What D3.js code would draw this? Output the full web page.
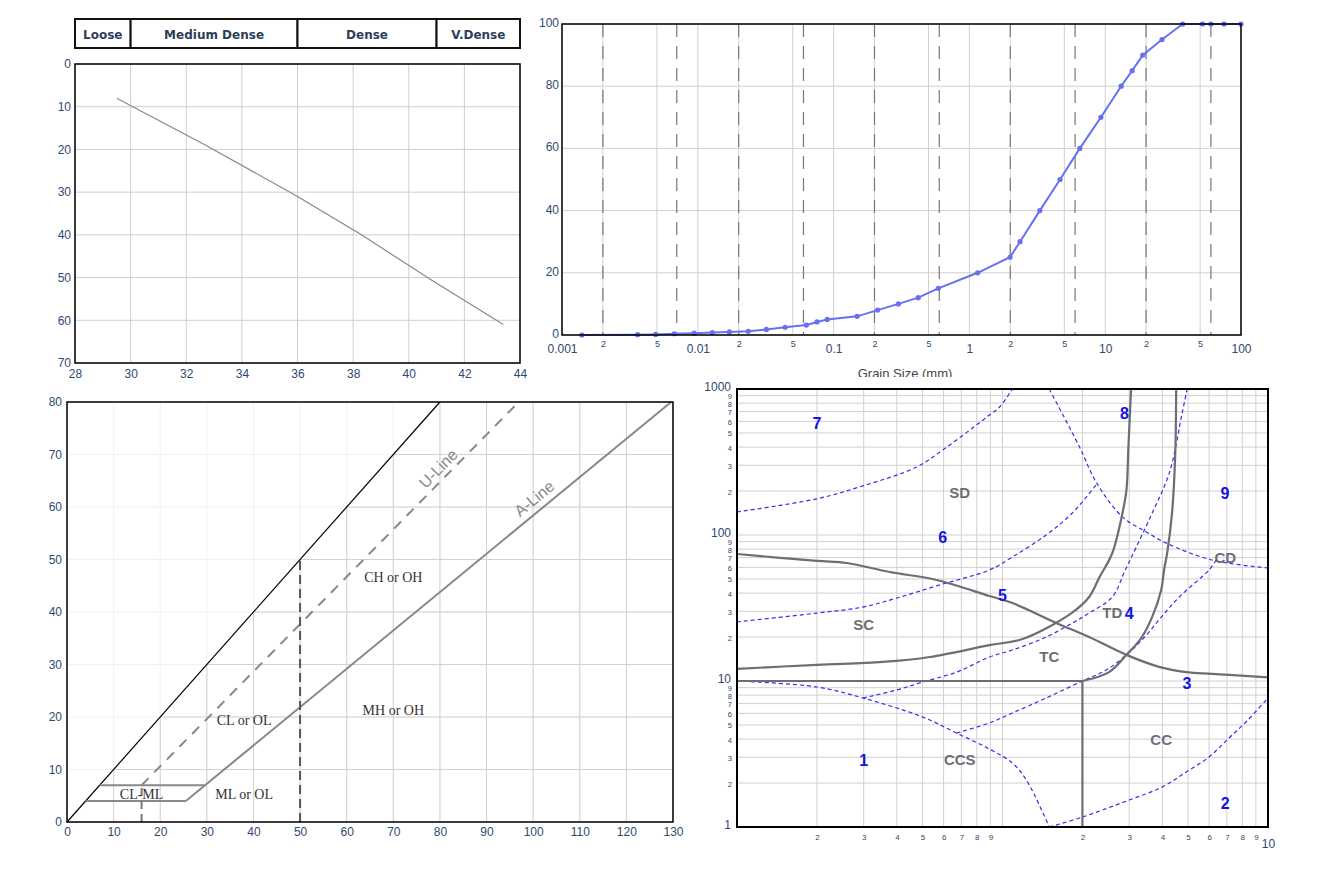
<!DOCTYPE html>
<html>
<head>
<meta charset="utf-8">
<script src="https://cdn.jsdelivr.net/npm/d3@7"></script>
<style>
body { margin: 0; background: #fff; }
svg text { font-family: "Liberation Sans", Arial, sans-serif; }
</style>
</head>
<body>
<svg id="chart" width="1329" height="884"></svg>
<script>
// ---------- panel 1 : density profile ----------
var densityClasses = ["Loose", "Medium Dense", "Dense", "V.Dense"];
var densityBreaks = [28, 30, 36, 41, 44];
var nValue = [29.5, 32.7, 36.0, 38.3, 40.8, 43.4];
var depthM = [8, 19, 31, 40, 50.5, 61];
var nTicks = [28, 30, 32, 34, 36, 38, 40, 42, 44];
var depthTicks = [0, 10, 20, 30, 40, 50, 60, 70];

// ---------- panel 2 : grain size curve ----------
var grainSize = [0.0014, 0.0036, 0.0049, 0.0067, 0.0094, 0.0128, 0.0171, 0.0235, 0.032, 0.044,
  0.063, 0.0755, 0.0897, 0.149, 0.211, 0.30, 0.42, 0.59, 1.15, 1.99, 2.36, 3.3, 4.65, 6.5,
  9.3, 13.1, 15.8, 18.9, 26.2, 37.2, 52, 60, 75, 100];
var percentPassing = [0, 0.1, 0.2, 0.4, 0.6, 0.8, 1.0, 1.2, 1.8, 2.5,
  3.2, 4.2, 5, 6, 8, 10, 12, 15, 20, 25, 30, 40, 50, 60,
  70, 80, 85, 90, 95, 100, 100, 100, 100, 100];
var sizeMajor = [0.001, 0.01, 0.1, 1, 10, 100];
var sizeMinor = [0.002, 0.005, 0.02, 0.05, 0.2, 0.5, 2, 5, 20, 50];
var soilBounds = [0.002, 0.007, 0.02, 0.06, 0.2, 0.6, 2, 6, 20, 60];
var passingTicks = [0, 20, 40, 60, 80, 100];

// ---------- panel 3 : plasticity chart ----------
var llTicks = [0, 10, 20, 30, 40, 50, 60, 70, 80, 90, 100, 110, 120, 130];
var piTicks = [0, 10, 20, 30, 40, 50, 60, 70, 80];
var limitLL = [0, 80], limitPI = [0, 80];
var aLineLL = [25.5, 129.6], aLinePI = [4, 80];
var uLineLL = [16, 96], uLinePI = [7, 79.2];
var clmlLowLL = [4, 25.5], clmlLowPI = [4, 4];
var clmlHighLL = [7, 29.6], clmlHighPI = [7, 7];
var uStemLL = [16, 16], uStemPI = [0, 7];
var ll50LL = [50, 50], ll50PI = [0, 50];
var zoneNames = ["CH or OH", "CL or OL", "MH or OH", "ML or OL", "CL-ML"];
var zoneLL = [70, 38, 70, 38, 16];
var zonePI = [46.6, 19.5, 21.4, 5.4, 5.4];

// ---------- panel 4 : CPT classification chart ----------
var frMinor = [0.2, 0.3, 0.4, 0.5, 0.6, 0.7, 0.8, 0.9, 2, 3, 4, 5, 6, 7, 8, 9];
var frGrid = [0.1, 0.2, 0.3, 0.4, 0.5, 0.6, 0.7, 0.8, 0.9, 1, 2, 3, 4, 5, 6, 7, 8, 9, 10];
var qMajor = [1, 10, 100, 1000];
var qMinor = [2, 3, 4, 5, 6, 7, 8, 9, 20, 30, 40, 50, 60, 70, 80, 90, 200, 300, 400, 500, 600, 700, 800, 900];

// grey boundaries
var bHorizFr = [0.1, 2], bHorizQ = [10, 10];
var bVertFr = [2, 2], bVertQ = [10, 1];
var bRightFr = [2, 2.52, 2.93, 3.33, 3.66, 3.96, 4.06, 4.17, 4.35, 4.47, 4.51];
var bRightQ = [10, 11.5, 15.1, 19.7, 27.4, 42, 57.6, 75, 141, 342, 1000];
var bLeftFr = [0.1, 0.2, 0.354, 0.532, 0.893, 1.19, 1.82, 2.12, 2.32, 2.59, 2.83, 2.93, 2.98, 3.05];
var bLeftQ = [12.1, 12.9, 13.5, 14.6, 17.6, 19.4, 29.2, 37.6, 51.5, 75, 141, 203, 401, 1000];
var bFallFr = [0.1, 0.2, 0.259, 0.376, 0.565, 0.893, 1.09, 1.60, 2.12, 2.93, 3.89, 4.92, 6.15, 10];
var bFallQ = [74.1, 66.4, 64.3, 55.8, 49.2, 38.2, 34.2, 24.9, 20.0, 15.1, 12.5, 11.5, 11.2, 10.6];

// blue dashed zone boundaries
var z1Fr = [0.1, 0.2, 0.298, 0.5, 0.671, 0.893, 1.09, 1.23, 1.5];
var z1Q = [10, 9.1, 7.65, 5.67, 4.4, 3.42, 2.74, 2.1, 1];
var z2Fr = [1.5, 2.0, 3.0, 4.0, 4.92, 6.0, 7.13, 8.26, 10];
var z2Q = [1, 1.17, 1.53, 1.88, 2.38, 3.02, 4.07, 5.24, 7.65];
var z45Fr = [0.298, 0.40, 0.5, 0.671, 0.893, 1.09, 1.46, 1.83, 2.12, 2.59, 2.90, 3.19, 3.66, 4.25, 4.75, 4.96];
var z45Q = [7.65, 8.68, 9.84, 11.5, 14.6, 16.3, 20.0, 24.9, 29.2, 37.6, 57.6, 82.7, 141, 266, 685, 1000];
var z34Fr = [0.671, 0.893, 1.09, 1.46, 2.0, 2.46, 2.93, 3.48, 3.96, 4.63, 6.0, 6.38];
var z34Q = [4.4, 5.16, 6.04, 7.65, 10, 11.9, 15.1, 20.6, 27.4, 37.6, 57.6, 67.4];
var z56Fr = [0.1, 0.2, 0.298, 0.40, 0.58, 0.893, 1.09, 1.46, 1.83, 2.28];
var z56Q = [25.4, 29.2, 32.1, 37.0, 45.5, 57.6, 70.7, 100, 141, 227];
var z67Fr = [0.1, 0.2, 0.298, 0.475, 0.595, 0.771, 0.893, 0.975, 1.09];
var z67Q = [144, 177, 217, 292, 382, 541, 664, 753, 1000];
var z89Fr = [1.5, 1.95, 2.25, 2.83, 3.48, 4.14, 6.15, 10];
var z89Q = [1000, 401, 231, 133, 105, 88, 67.4, 59.4];

var zoneNums = ["7", "8", "9", "6", "5", "4", "3", "1", "2"];
var zoneNumFr = [0.2, 2.88, 6.89, 0.595, 1.0, 3.0, 4.95, 0.3, 6.9];
var zoneNumQ = [585, 685, 194, 97, 38.8, 29.2, 9.7, 2.87, 1.46];
var sbtNames = ["SD", "SC", "TC", "TD", "CD", "CC", "CCS"];
var sbtFr = [0.69, 0.3, 1.5, 2.59, 6.9, 3.96, 0.69];
var sbtQ = [194, 24.2, 14.6, 29.2, 69.5, 3.94, 2.87];

var svg = d3.select("#chart");
var tickColor = "#2c4a72";

function styleAxis(g, size, family) {
  g.select(".domain").remove();
  g.selectAll(".tick line").remove();
  g.attr("font-family", family || "Liberation Sans, Arial, sans-serif")
   .attr("font-size", size);
  g.selectAll("text").attr("fill", tickColor);
}

function pairs(a, b) { return a.map(function(v, i) { return [v, b[i]]; }); }

// ================= panel 1 =================
var x1 = d3.scaleLinear().domain([28, 44]).range([75, 520]);
var y1 = d3.scaleLinear().domain([0, 70]).range([64, 363]);
var g1 = svg.append("g");

g1.selectAll(".g1x").data(nTicks).enter().append("line")
  .attr("x1", d => x1(d)).attr("x2", d => x1(d))
  .attr("y1", y1(0)).attr("y2", y1(70))
  .attr("stroke", "#cfcfcf");
g1.selectAll(".g1y").data(depthTicks).enter().append("line")
  .attr("x1", x1(28)).attr("x2", x1(44))
  .attr("y1", d => y1(d)).attr("y2", d => y1(d))
  .attr("stroke", "#cfcfcf");

g1.append("path")
  .datum(pairs(nValue, depthM))
  .attr("fill", "none").attr("stroke", "#888").attr("stroke-width", 1.2)
  .attr("d", d3.line().x(d => x1(d[0])).y(d => y1(d[1])));

g1.append("rect").attr("x", x1(28)).attr("y", y1(0))
  .attr("width", x1(44) - x1(28)).attr("height", y1(70) - y1(0))
  .attr("fill", "none").attr("stroke", "#000").attr("stroke-width", 1.5);

// header band
var head = g1.append("g");
densityClasses.forEach(function(c, i) {
  var a = x1(densityBreaks[i]), b = x1(densityBreaks[i + 1]);
  head.append("rect").attr("x", a).attr("y", 19).attr("width", b - a).attr("height", 29)
    .attr("fill", "#fff").attr("stroke", "#111").attr("stroke-width", 2);
  head.append("text").attr("x", (a + b) / 2).attr("y", 39)
    .attr("text-anchor", "middle")
    .style("font-family", "DejaVu Sans, Verdana, sans-serif")
    .style("font-weight", "bold").style("font-size", "12px")
    .attr("fill", "#2c3e5a").text(c);
});

g1.append("g").attr("transform", "translate(0," + y1(70) + ")")
  .call(d3.axisBottom(x1).tickValues(nTicks).tickSize(0).tickPadding(6))
  .call(g => styleAxis(g, 12, "DejaVu Sans, Verdana, sans-serif"));
g1.append("g").attr("transform", "translate(" + x1(28) + ",0)")
  .call(d3.axisLeft(y1).tickValues(depthTicks).tickSize(0).tickPadding(4))
  .call(g => styleAxis(g, 12, "DejaVu Sans, Verdana, sans-serif"));

// ================= panel 2 =================
var clip2 = svg.append("clipPath").attr("id", "clip2");
clip2.append("rect").attr("x", 520).attr("y", 0).attr("width", 760).attr("height", 377);
var g2 = svg.append("g").attr("clip-path", "url(#clip2)");
var x2 = d3.scaleLog().domain([0.001, 100]).range([562, 1241]);
var y2 = d3.scaleLinear().domain([0, 100]).range([335, 24]);

g2.selectAll(".g2v").data(sizeMajor.concat(sizeMinor)).enter().append("line")
  .attr("x1", d => x2(d)).attr("x2", d => x2(d))
  .attr("y1", y2(0)).attr("y2", y2(100))
  .attr("stroke", "#d0d0d0");
g2.selectAll(".g2h").data(passingTicks).enter().append("line")
  .attr("x1", x2(0.001)).attr("x2", x2(100))
  .attr("y1", d => y2(d)).attr("y2", d => y2(d))
  .attr("stroke", "#d0d0d0");
g2.selectAll(".g2d").data(soilBounds).enter().append("line")
  .attr("x1", d => x2(d)).attr("x2", d => x2(d))
  .attr("y1", y2(100)).attr("y2", y2(0))
  .attr("stroke", "#777").attr("stroke-width", 1.2)
  .attr("stroke-dasharray", "13,9");

g2.append("path")
  .datum(pairs(grainSize, percentPassing))
  .attr("fill", "none").attr("stroke", "#6670f2").attr("stroke-width", 2)
  .attr("d", d3.line().x(d => x2(d[0])).y(d => y2(d[1])));
g2.selectAll(".pt").data(pairs(grainSize, percentPassing)).enter().append("circle")
  .attr("cx", d => x2(d[0])).attr("cy", d => y2(d[1])).attr("r", 2.6)
  .attr("fill", "#6670f2");

g2.append("rect").attr("x", x2(0.001)).attr("y", y2(100))
  .attr("width", x2(100) - x2(0.001)).attr("height", y2(0) - y2(100))
  .attr("fill", "none").attr("stroke", "#000").attr("stroke-width", 1.5);

g2.append("g").attr("transform", "translate(0," + y2(0) + ")")
  .call(d3.axisBottom(x2).tickValues(sizeMajor).tickFormat(d3.format("~g")).tickSize(0).tickPadding(9))
  .call(g => styleAxis(g, 12));
g2.append("g").attr("transform", "translate(0," + y2(0) + ")")
  .call(d3.axisBottom(x2).tickValues(sizeMinor).tickFormat(d => String(d).replace(/[0.]/g, "")).tickSize(0).tickPadding(6))
  .call(g => styleAxis(g, 9));
g2.append("g").attr("transform", "translate(" + x2(0.001) + ",0)")
  .call(d3.axisLeft(y2).tickValues(passingTicks).tickSize(0).tickPadding(3))
  .call(g => styleAxis(g, 12))
  .call(g => g.selectAll("text").attr("dy", "0.2em"));
g2.append("text").attr("x", 905).attr("y", 378).attr("text-anchor", "middle")
  .style("font-size", "13px").attr("fill", "#444").text("Grain Size (mm)");

// ================= panel 3 =================
var x3 = d3.scaleLinear().domain([0, 130]).range([67, 673]);
var y3 = d3.scaleLinear().domain([0, 80]).range([822, 402]);
var g3 = svg.append("g");
var line3 = d3.line().x(d => x3(d[0])).y(d => y3(d[1]));

function grid3(g, color) {
  g.selectAll(".v").data(llTicks).enter().append("line")
    .attr("x1", d => x3(d)).attr("x2", d => x3(d)).attr("y1", y3(0)).attr("y2", y3(80))
    .attr("stroke", color);
  g.selectAll(".h").data(piTicks).enter().append("line")
    .attr("x1", x3(0)).attr("x2", x3(130)).attr("y1", d => y3(d)).attr("y2", d => y3(d))
    .attr("stroke", color);
}
grid3(g3.append("g"), "#f0f0f0");
svg.append("clipPath").attr("id", "clip3").append("path")
  .attr("d", line3([[0, 0], [80, 80], [130, 80], [130, 0]]) + "Z");
grid3(g3.append("g").attr("clip-path", "url(#clip3)"), "#d2d2d2");

g3.append("path").attr("d", line3(pairs(limitLL, limitPI)))
  .attr("stroke", "#000").attr("stroke-width", 1.2).attr("fill", "none");
[[aLineLL, aLinePI], [clmlLowLL, clmlLowPI], [clmlHighLL, clmlHighPI]].forEach(function(s) {
  g3.append("path").attr("d", line3(pairs(s[0], s[1])))
    .attr("stroke", "#888").attr("stroke-width", 2).attr("fill", "none");
});
g3.append("path").attr("d", line3(pairs(uLineLL, uLinePI)))
  .attr("stroke", "#888").attr("stroke-width", 2).attr("fill", "none")
  .attr("stroke-dasharray", "10,8");
g3.append("path").attr("d", line3(pairs(uStemLL, uStemPI)))
  .attr("stroke", "#777").attr("stroke-width", 2).attr("fill", "none")
  .attr("stroke-dasharray", "8,5");
g3.append("path").attr("d", line3(pairs(ll50LL, ll50PI)))
  .attr("stroke", "#555").attr("stroke-width", 2).attr("fill", "none")
  .attr("stroke-dasharray", "9,5");

function lineLabel(txt, ll, pi, lls, pis) {
  var ang = Math.atan2(y3(pis[1]) - y3(pis[0]), x3(lls[1]) - x3(lls[0])) * 180 / Math.PI;
  g3.append("text").attr("transform", "translate(" + x3(ll) + "," + y3(pi) + ") rotate(" + ang + ")")
    .attr("text-anchor", "middle").style("font-size", "16px").attr("fill", "#888").text(txt);
}
lineLabel("U-Line", 80.5, 66.6, uLineLL, uLinePI);
lineLabel("A-Line", 101, 60.8, aLineLL, aLinePI);

zoneNames.forEach(function(n, i) {
  g3.append("text").attr("x", x3(zoneLL[i])).attr("y", y3(zonePI[i]))
    .attr("text-anchor", "middle").attr("dy", "0.35em")
    .style("font-family", "Liberation Serif, Times New Roman, serif").style("font-size", "14px")
    .attr("fill", "#333").text(n);
});

g3.append("rect").attr("x", x3(0)).attr("y", y3(80))
  .attr("width", x3(130) - x3(0)).attr("height", y3(0) - y3(80))
  .attr("fill", "none").attr("stroke", "#000").attr("stroke-width", 1.5);
g3.append("g").attr("transform", "translate(0," + y3(0) + ")")
  .call(d3.axisBottom(x3).tickValues(llTicks).tickSize(0).tickPadding(5))
  .call(g => styleAxis(g, 12));
g3.append("g").attr("transform", "translate(" + x3(0) + ",0)")
  .call(d3.axisLeft(y3).tickValues(piTicks).tickSize(0).tickPadding(5))
  .call(g => styleAxis(g, 12));

// ================= panel 4 =================
var x4 = d3.scaleLog().domain([0.1, 10]).range([737, 1268]);
var y4 = d3.scaleLog().domain([1, 1000]).range([827, 389]);
var g4 = svg.append("g");
svg.append("clipPath").attr("id", "clip4").append("rect")
  .attr("x", x4(0.1)).attr("y", y4(1000)).attr("width", x4(10) - x4(0.1)).attr("height", y4(1) - y4(1000));

g4.selectAll(".v").data(frGrid).enter().append("line")
  .attr("x1", d => x4(d)).attr("x2", d => x4(d)).attr("y1", y4(1)).attr("y2", y4(1000))
  .attr("stroke", "#d0d0d0");
g4.selectAll(".h").data(qMajor.concat(qMinor)).enter().append("line")
  .attr("x1", x4(0.1)).attr("x2", x4(10)).attr("y1", d => y4(d)).attr("y2", d => y4(d))
  .attr("stroke", "#d0d0d0");

var curves = g4.append("g").attr("clip-path", "url(#clip4)");
var line4 = d3.line().x(d => x4(d[0])).y(d => y4(d[1])).curve(d3.curveCatmullRom.alpha(0.5));

[[z1Fr, z1Q], [z2Fr, z2Q], [z45Fr, z45Q], [z34Fr, z34Q], [z56Fr, z56Q], [z67Fr, z67Q], [z89Fr, z89Q]].forEach(function(s) {
  curves.append("path").attr("d", line4(pairs(s[0], s[1])))
    .attr("fill", "none").attr("stroke", "#2f2ff0").attr("stroke-width", 1.2)
    .attr("stroke-dasharray", "4,3");
});
[[bHorizFr, bHorizQ], [bVertFr, bVertQ], [bRightFr, bRightQ], [bLeftFr, bLeftQ], [bFallFr, bFallQ]].forEach(function(s) {
  curves.append("path").attr("d", line4(pairs(s[0], s[1])))
    .attr("fill", "none").attr("stroke", "#6b6e75").attr("stroke-width", 2.2);
});

zoneNums.forEach(function(n, i) {
  g4.append("text").attr("x", x4(zoneNumFr[i])).attr("y", y4(zoneNumQ[i]))
    .attr("text-anchor", "middle").attr("dy", "0.35em")
    .style("font-size", "16px").style("font-weight", "bold")
    .attr("fill", "#1212e8").text(n);
});
sbtNames.forEach(function(n, i) {
  g4.append("text").attr("x", x4(sbtFr[i])).attr("y", y4(sbtQ[i]))
    .attr("text-anchor", "middle").attr("dy", "0.35em")
    .style("font-size", "15px").style("font-weight", "bold")
    .attr("fill", "#6b6e75").text(n);
});

g4.append("rect").attr("x", x4(0.1)).attr("y", y4(1000))
  .attr("width", x4(10) - x4(0.1)).attr("height", y4(1) - y4(1000))
  .attr("fill", "none").attr("stroke", "#000").attr("stroke-width", 2);

g4.append("g").attr("transform", "translate(" + x4(0.1) + ",0)")
  .call(d3.axisLeft(y4).tickValues(qMajor).tickFormat(d3.format("d")).tickSize(0).tickPadding(6))
  .call(g => styleAxis(g, 12))
  .call(g => g.selectAll("text").attr("dy", "0.1em"));
g4.append("g").attr("transform", "translate(" + x4(0.1) + ",0)")
  .call(d3.axisLeft(y4).tickValues(qMinor).tickFormat(d => String(d)[0]).tickSize(0).tickPadding(5))
  .call(g => styleAxis(g, 7.5))
  .call(g => g.selectAll("text").attr("dy", "0.4em"));
g4.append("g").attr("transform", "translate(0," + y4(1) + ")")
  .call(d3.axisBottom(x4).tickValues(frMinor).tickFormat(d => String(d).replace(/[0.]/g, "")).tickSize(0).tickPadding(7))
  .call(g => styleAxis(g, 8));
g4.append("g").attr("transform", "translate(0," + y4(1) + ")")
  .call(d3.axisBottom(x4).tickValues([10]).tickFormat(d3.format("d")).tickSize(0).tickPadding(12))
  .call(g => styleAxis(g, 12));
</script>
</body>
</html>
